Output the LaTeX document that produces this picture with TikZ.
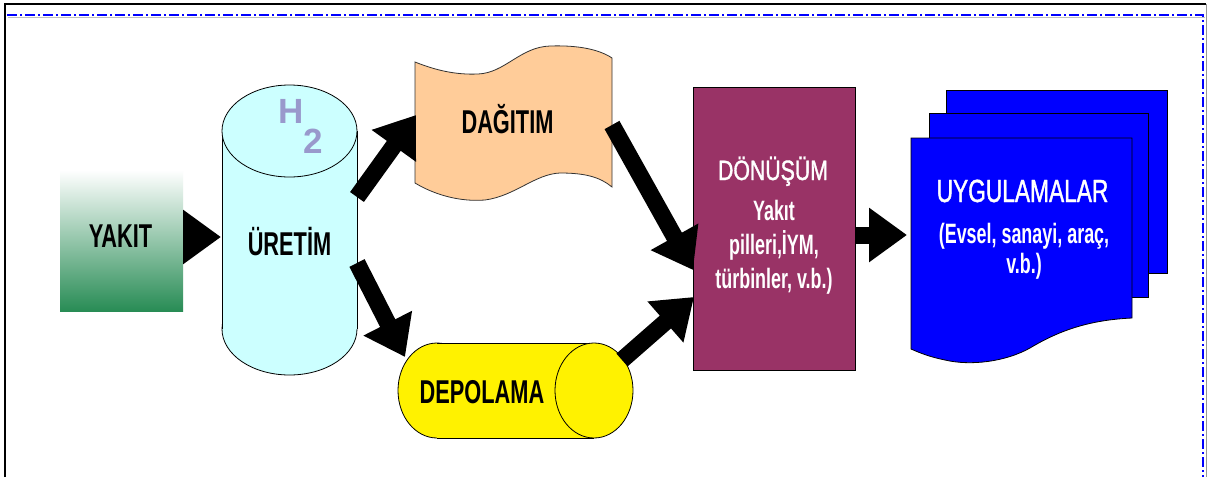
\documentclass[tikz,border=0pt]{standalone}
\usepackage{fontspec}
\setmainfont{Liberation Sans}
\newfontfamily\fa{Liberation Sans}[FakeStretch=0.66]
\newfontfamily\fb{Liberation Sans}[FakeStretch=0.64]
\newfontfamily\fc{Liberation Sans}[FakeStretch=0.71, FakeBold=1.2]
\newfontfamily\fd{Liberation Sans}[FakeStretch=0.76, FakeBold=1.2]
\usetikzlibrary{arrows.meta}
\definecolor{cyl}{RGB}{204,255,255}
\definecolor{peach}{RGB}{255,204,153}
\definecolor{plum}{RGB}{153,51,102}
\definecolor{pageblue}{RGB}{0,0,255}
\definecolor{ygreen}{RGB}{40,140,85}
\definecolor{ymid}{RGB}{170,212,188}
\definecolor{hcol}{RGB}{153,153,204}
\definecolor{framegray}{RGB}{150,150,150}
\tikzset{
  bigarrow/.style={line width=17pt, -{Triangle[length=38pt,width=52pt]}},
  lbl/.style={anchor=base, inner sep=0pt, font=\fa\bfseries\fontsize{33}{38}\selectfont},
  wlbl/.style={anchor=base, inner sep=0pt, text=white},
  outl/.style={draw=black, line width=0.8pt},
  area/.style={inner sep=0pt, outer sep=0pt},
}
\begin{document}
\begin{tikzpicture}[x=1pt, y=-1pt]
\useasboundingbox (0,0) rectangle (1208,477);
\fill[white] (0,0) rectangle (1208,477);
% frame
\draw[framegray, line width=1pt] (1206,4) -- (1206,477);
\draw[black, line width=1.6pt] (5,477) -- (5,4) -- (1206,4);
\draw[black!25, line width=1pt] (8,17) -- (1205,17);
\draw[pageblue, line width=1.4pt, dash pattern=on 10pt off 3pt on 2pt off 3pt] (7,15) -- (1203,15) -- (1203,477);

% YAKIT
\node[area, minimum width=123pt, minimum height=141pt, top color=white, middle color=ymid, bottom color=ygreen] (yakit) at (121.5,240.5) {};
\node[lbl] (tyakit) at (120.5,247) {YAKIT};

% URETIM cylinder
\node[area, minimum width=135pt, minimum height=290pt] (uretim) at (289.5,230) {};
\filldraw[fill=cyl, outl] (289.5,329) ellipse [x radius=67.5, y radius=46];
\fill[cyl] (222,131) rectangle (357,329);
\draw[outl] (222,131) -- (222,329) (357,131) -- (357,329);
\filldraw[fill=cyl, outl] (289.5,131) ellipse [x radius=67.5, y radius=46];
\node[anchor=base, inner sep=0pt, text=hcol, font=\bfseries\fontsize{35}{40}\selectfont] (th) at (291.5,123) {H};
\node[anchor=base, inner sep=0pt, text=hcol, font=\bfseries\fontsize{35}{40}\selectfont] (ttwo) at (313,153) {2};
\node[lbl] (turetim) at (289.5,255) {ÜRETİM};

% DAGITIM wave
\node[area, minimum width=197pt, minimum height=152pt] (dagitim) at (513.5,123) {};
\filldraw[fill=peach, outl, draw=black!80]
  (415,62) .. controls (435,70) and (455,75) .. (478,74)
  .. controls (505,73) and (520,47) .. (550,46)
  .. controls (580,45) and (600,50) .. (612,58)
  -- (612,187)
  .. controls (600,177) and (585,173) .. (560,173)
  .. controls (535,174) and (515,196) .. (485,200)
  .. controls (460,202) and (435,195) .. (415,183) -- cycle;
\node[lbl] (tdagitim) at (507.5,133) {DAĞITIM};

% DEPOLAMA horizontal cylinder
\node[area, minimum width=235pt, minimum height=95pt] (depolama) at (515.5,390.5) {};
\filldraw[fill=yellow, outl] (437,390.5) ellipse [x radius=39, y radius=47.5];
\fill[yellow] (437,343) rectangle (594,438);
\draw[outl] (437,343) -- (594,343) (437,438) -- (594,438);
\filldraw[fill=yellow, outl] (594,390.5) ellipse [x radius=39, y radius=47.5];
\node[lbl] (tdepolama) at (482,403) {DEPOLAMA};

% DONUSUM
\node[area, minimum width=162pt, minimum height=283pt, fill=plum, draw=black, line width=0.8pt] (donusum) at (774,228.5) {};
\node[wlbl, font=\fd\fontsize{28}{34}\selectfont] (tdonusum) at (773,180) {DÖNÜŞÜM};
\node[wlbl, font=\fb\bfseries\fontsize{28}{34}\selectfont] (tdonusumx) at (774,220)
  {\begin{tabular}[t]{@{}c@{}}Yakıt\\pilleri,İYM,\\türbinler, v.b.)\end{tabular}};

% UYGULAMALAR pages
\node[area, minimum width=221pt, minimum height=225pt] (uyg) at (1021.5,250.5) {};
\filldraw[fill=pageblue, outl] (946,90) rectangle (1167,273);
\filldraw[fill=pageblue, outl] (929,113) rectangle (1148,297);
\filldraw[fill=pageblue, outl] (911,138) -- (1132,138) -- (1132,318)
  .. controls (1090,320) and (1060,330) .. (1030,348)
  .. controls (1005,362) and (970,366) .. (945,360)
  .. controls (930,357) and (920,353) .. (911,349) -- cycle;
\node[wlbl, font=\fc\fontsize{32}{36}\selectfont] (tuyg) at (1022.5,202) {UYGULAMALAR};
\node[wlbl, font=\fb\bfseries\fontsize{28}{30}\selectfont] (tuygx) at (1024,243)
  {\begin{tabular}[t]{@{}c@{}}(Evsel, sanayi, araç,\\v.b.)\end{tabular}};

% arrows
\draw[bigarrow] ([yshift=3.5pt]yakit.east) -- ([xshift=-1pt,yshift=-7pt]uretim.west);
\draw[bigarrow] ([yshift=33pt]uretim.east) -- ([xshift=1pt,yshift=8pt]dagitim.west);
\draw[bigarrow] ([yshift=-33pt]uretim.east) -- ([xshift=7pt,yshift=33.5pt]depolama.west);
\draw[bigarrow] ([yshift=-2pt]dagitim.east) -- ([yshift=-41.5pt]donusum.west);
\draw[bigarrow] ([xshift=-11pt,yshift=30.5pt]depolama.east) -- ([xshift=1pt,yshift=-68.5pt]donusum.west);
\draw[bigarrow] ([yshift=-6.5pt]donusum.east) -- ([xshift=-4pt,yshift=15.5pt]uyg.west);
\end{tikzpicture}
\end{document}
